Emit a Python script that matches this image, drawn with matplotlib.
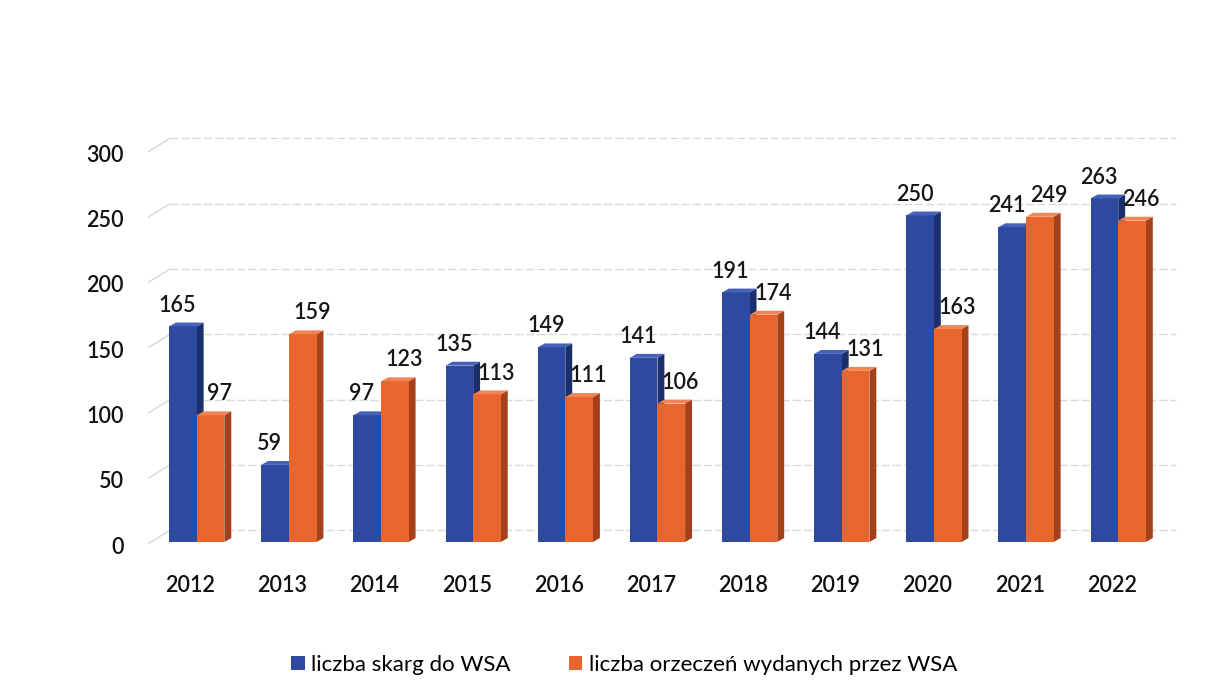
import matplotlib
matplotlib.use("Agg")
from matplotlib import pyplot as plt
from matplotlib.patches import Polygon, Patch

years = ["2012", "2013", "2014", "2015", "2016", "2017", "2018", "2019", "2020", "2021", "2022"]
skargi = [165, 59, 97, 135, 149, 141, 191, 144, 250, 241, 263]
orzeczenia = [97, 159, 123, 113, 111, 106, 174, 131, 163, 249, 246]
yticks = [0, 50, 100, 150, 200, 250, 300]
names = ["liczba skarg do WSA", "liczba orzeczeń wydanych przez WSA"]

plt.rcParams['font.family'] = ['Lato', 'DejaVu Sans']

blue = ("#2D4AA0", "#1B2F6C", "#4562B8")      # front, side, top
orange = ("#E9652E", "#A4411B", "#F08454")

w = 0.3       # front face width
dx = 0.075    # depth to the right
dy = 3.0      # depth upward (data units)
wall = 9.0    # back wall shift for gridlines

fig = plt.figure(figsize=(12.05, 6.99), dpi=100)
ax = fig.add_axes([0.112, 0.2153, 0.868, 0.6073])
ax.set_xlim(-0.6, 10.75)
ax.set_ylim(-5, 320)
ax.axis("off")

# gridlines on the back wall with a short diagonal on the side wall
for v in yticks:
    ax.plot([-0.45, -0.22], [v - 1, v + wall], color="#d6d6d6", lw=1, zorder=1)
    ax.plot([-0.22, 10.7], [v + wall, v + wall], color="#dadada", lw=1,
            ls=(0, (6, 2)), zorder=1)
    ax.text(-0.72, v - 4, str(v), ha="right", va="center", fontsize=15.5,
            fontweight="semibold", color="#111111")


def bar3d(xc, h, cols):
    x0 = xc - w / 2
    x1 = xc + w / 2
    ax.add_patch(Polygon([(x1, 0), (x1 + dx, dy), (x1 + dx, h + dy), (x1, h)],
                         closed=True, fc=cols[1], ec="none", zorder=3))
    ax.add_patch(Polygon([(x0, 0), (x1, 0), (x1, h), (x0, h)],
                         closed=True, fc=cols[0], ec="none", zorder=3))
    ax.add_patch(Polygon([(x0, h), (x1, h), (x1 + dx, h + dy), (x0 + dx, h + dy)],
                         closed=True, fc=cols[2], ec="none", zorder=3))


for i in range(len(years)):
    xb = i - 0.08
    xo = i + 0.22
    bar3d(xb, skargi[i], blue)
    bar3d(xo, orzeczenia[i], orange)
    ax.annotate(str(skargi[i]), (xb - 0.06, skargi[i] + dy), xytext=(0, 5),
                textcoords="offset points", ha="center", va="bottom",
                fontsize=15.5, fontweight="semibold", color="#161616", zorder=5)
    ax.annotate(str(orzeczenia[i]), (xo + 0.1, orzeczenia[i] + dy), xytext=(0, 5),
                textcoords="offset points", ha="center", va="bottom",
                fontsize=15.5, fontweight="semibold", color="#161616", zorder=5)
    ax.text(i, -33, years[i], ha="center", va="center", fontsize=15.5,
            fontweight="semibold", color="#111111")

handles = [Patch(fc=blue[0], ec="none"), Patch(fc=orange[0], ec="none")]
fig.legend(handles, names, loc="center", bbox_to_anchor=(0.518, 0.0486), ncol=2,
           frameon=False, handlelength=0.6, handleheight=0.6, handletextpad=0.3,
           columnspacing=2.6, fontsize=16)

fig.savefig("out.png", dpi=100)
